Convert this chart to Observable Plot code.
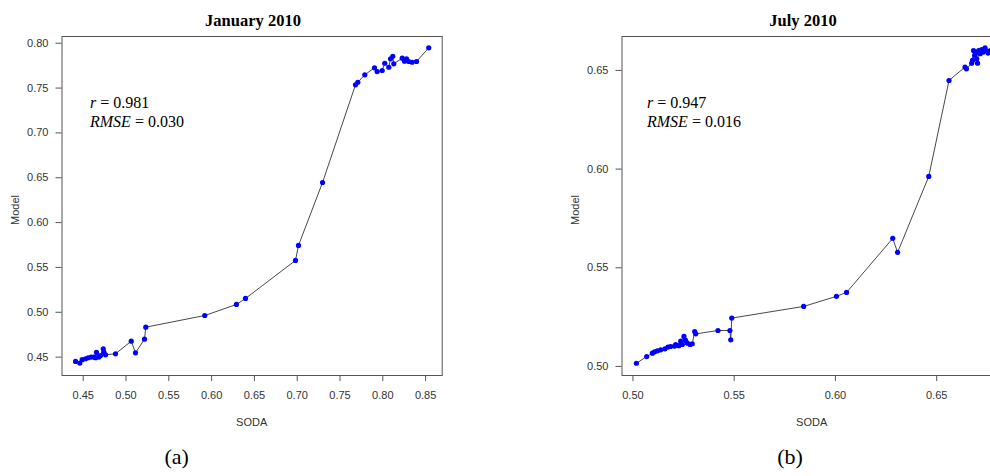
<!DOCTYPE html>
<html>
<head>
<meta charset="utf-8">
<script src="https://cdn.jsdelivr.net/npm/d3@7"></script>
<script src="https://cdn.jsdelivr.net/npm/@observablehq/plot@0.6"></script>
<style>
  html, body { margin: 0; padding: 0; background: #fff; overflow: hidden; }
  #wrap { position: relative; width: 990px; height: 476px; overflow: hidden; background: #fff; }
  .pl { position: absolute; top: 0; }
  .lbl { position: absolute; white-space: nowrap; line-height: 1; color: #000; }
</style>
</head>
<body>
<div id="wrap"></div>
<script>
// ---- January 2010 (panel a) ----
const janSoda  = [0.4410,0.4460,0.4488,0.4527,0.4558,0.4593,0.4624,0.4644,0.4655,0.4682,0.4702,0.4734,0.4741,0.4761,0.4877,
                  0.5061,0.5111,0.5216,0.5231,0.5920,0.6290,0.6396,0.6980,0.7015,0.7296,
                  0.7681,0.7708,0.7790,0.7903,0.7934,0.7993,0.8023,0.8070,0.8090,0.8117,0.8128,0.8227,0.8254,0.8277,0.8304,0.8343,0.8394,0.8537];
const janModel = [0.4452,0.4433,0.4471,0.4482,0.4493,0.4500,0.4500,0.4493,0.4552,0.4500,0.4518,0.4593,0.4555,0.4526,0.4537,
                  0.4678,0.4548,0.4700,0.4834,0.4964,0.5087,0.5154,0.5578,0.5745,0.6447,
                  0.7536,0.7565,0.7648,0.7726,0.7684,0.7696,0.7777,0.7732,0.7826,0.7855,0.7770,0.7833,0.7799,0.7826,0.7796,0.7788,0.7796,0.7949];
const janXTicks = [0.45,0.50,0.55,0.60,0.65,0.70,0.75,0.80,0.85];
const janYTicks = [0.45,0.50,0.55,0.60,0.65,0.70,0.75,0.80];

// ---- July 2010 (panel b) ----
const julSoda  = [0.5017,0.5068,0.5096,0.5107,0.5121,0.5137,0.5158,0.5173,0.5186,0.5206,0.5211,0.5227,0.5236,0.5244,0.5252,0.5260,0.5269,0.5282,0.5293,0.5305,0.5310,
                  0.5420,0.5479,0.5483,0.5488,0.5843,0.6005,0.6055,0.6283,0.6307,0.6461,
                  0.6561,0.6640,0.6647,0.6673,0.6677,0.6682,0.6688,0.6693,0.6698,0.6702,0.6707,0.6715,0.6723,0.6731,0.6739,0.6743,0.6754,0.6764];
const julModel = [0.5016,0.5050,0.5067,0.5074,0.5079,0.5084,0.5089,0.5098,0.5101,0.5103,0.5111,0.5105,0.5128,0.5111,0.5152,0.5132,0.5118,0.5111,0.5115,0.5177,0.5165,
                  0.5182,0.5182,0.5135,0.5245,0.5304,0.5355,0.5375,0.5649,0.5578,0.5963,
                  0.6449,0.6517,0.6508,0.6537,0.6551,0.6601,0.6576,0.6588,0.6559,0.6537,0.6601,0.6585,0.6605,0.6593,0.6615,0.6601,0.6588,0.6601];
const julXTicks = [0.50,0.55,0.60,0.65];
const julYTicks = [0.50,0.55,0.60,0.65];

const titles = ["January 2010", "July 2010"];
const stats = [{r: "0.981", rmse: "0.030"}, {r: "0.947", rmse: "0.016"}];
const panelTags = ["(a)", "(b)"];
const xLabel = "SODA", yLabel = "Model";

const wrap = document.getElementById("wrap");
const fmt = d3.format(".2f");

function panel(soda, model, xDomain, yDomain, xTicks, yTicks, mR) {
  const data = soda.map((s, i) => ({soda: s, model: model[i]}));
  return Plot.plot({
    width: 460, height: 476,
    marginTop: 36, marginBottom: 101, marginLeft: 61.5, marginRight: mR,
    style: {fontFamily: "'Liberation Sans', Arial, sans-serif", fontSize: "11px", background: "transparent", overflow: "visible"},
    x: {domain: xDomain},
    y: {domain: yDomain},
    marks: [
      Plot.frame({stroke: "#555", strokeWidth: 1}),
      Plot.axisX(xTicks, {tickSize: 6, tickPadding: 10, tickFormat: fmt, stroke: "#555", fill: "#333", fontSize: 11, label: null}),
      Plot.axisY(yTicks, {tickSize: 6, tickPadding: 7.5, tickFormat: fmt, stroke: "#555", fill: "#333", fontSize: 11, label: null}),
      Plot.line(data, {x: "soda", y: "model", stroke: "#333", strokeWidth: 0.9}),
      Plot.dot(data, {x: "soda", y: "model", r: 2.6, fill: "#0000ff", stroke: "none"})
    ]
  });
}

const pA = panel(janSoda, janModel, [0.4252, 0.8694], [0.4295, 0.8075], janXTicks, janYTicks, 18.3);
pA.classList.add("pl"); pA.style.left = "0px"; wrap.appendChild(pA);
const pB = panel(julSoda, julModel, [0.4946, 0.6830], [0.4954, 0.6672], julXTicks, julYTicks, 17);
pB.classList.add("pl"); pB.style.left = "560px"; wrap.appendChild(pB);

function label(html, cx, cy, css, align) {
  const d = document.createElement("div");
  d.className = "lbl";
  d.innerHTML = html;
  d.style.left = cx + "px";
  d.style.top = cy + "px";
  Object.assign(d.style, css);
  d.style.transform = (align === "left" ? "translate(0,-50%)" : "translate(-50%,-50%)") + (css.rotate ? " rotate(-90deg)" : "");
  wrap.appendChild(d);
}
const serif = "'Liberation Serif', 'Times New Roman', serif";
const sans = "'Liberation Sans', Arial, sans-serif";

label(titles[0], 253, 20.5, {fontFamily: serif, fontWeight: "bold", fontSize: "16.5px"});
label(titles[1], 803, 20.5, {fontFamily: serif, fontWeight: "bold", fontSize: "16.5px"});
label(`<i>r</i> = ${stats[0].r}`, 90, 103, {fontFamily: serif, fontSize: "16px"}, "left");
label(`<i>RMSE</i> = ${stats[0].rmse}`, 90, 121.5, {fontFamily: serif, fontSize: "16px"}, "left");
label(`<i>r</i> = ${stats[1].r}`, 647, 103, {fontFamily: serif, fontSize: "16px"}, "left");
label(`<i>RMSE</i> = ${stats[1].rmse}`, 647, 121.5, {fontFamily: serif, fontSize: "16px"}, "left");
label(xLabel, 251.7, 421.5, {fontFamily: sans, fontSize: "11px", color: "#333"});
label(xLabel, 811.7, 421.5, {fontFamily: sans, fontSize: "11px", color: "#333"});
label(yLabel, 15, 210, {fontFamily: sans, fontSize: "11px", color: "#333", rotate: true});
label(yLabel, 575, 210, {fontFamily: sans, fontSize: "11px", color: "#333", rotate: true});
label(panelTags[0], 176.7, 456.5, {fontFamily: serif, fontSize: "22px"});
label(panelTags[1], 790, 456.5, {fontFamily: serif, fontSize: "22px"});
</script>
</body>
</html>
